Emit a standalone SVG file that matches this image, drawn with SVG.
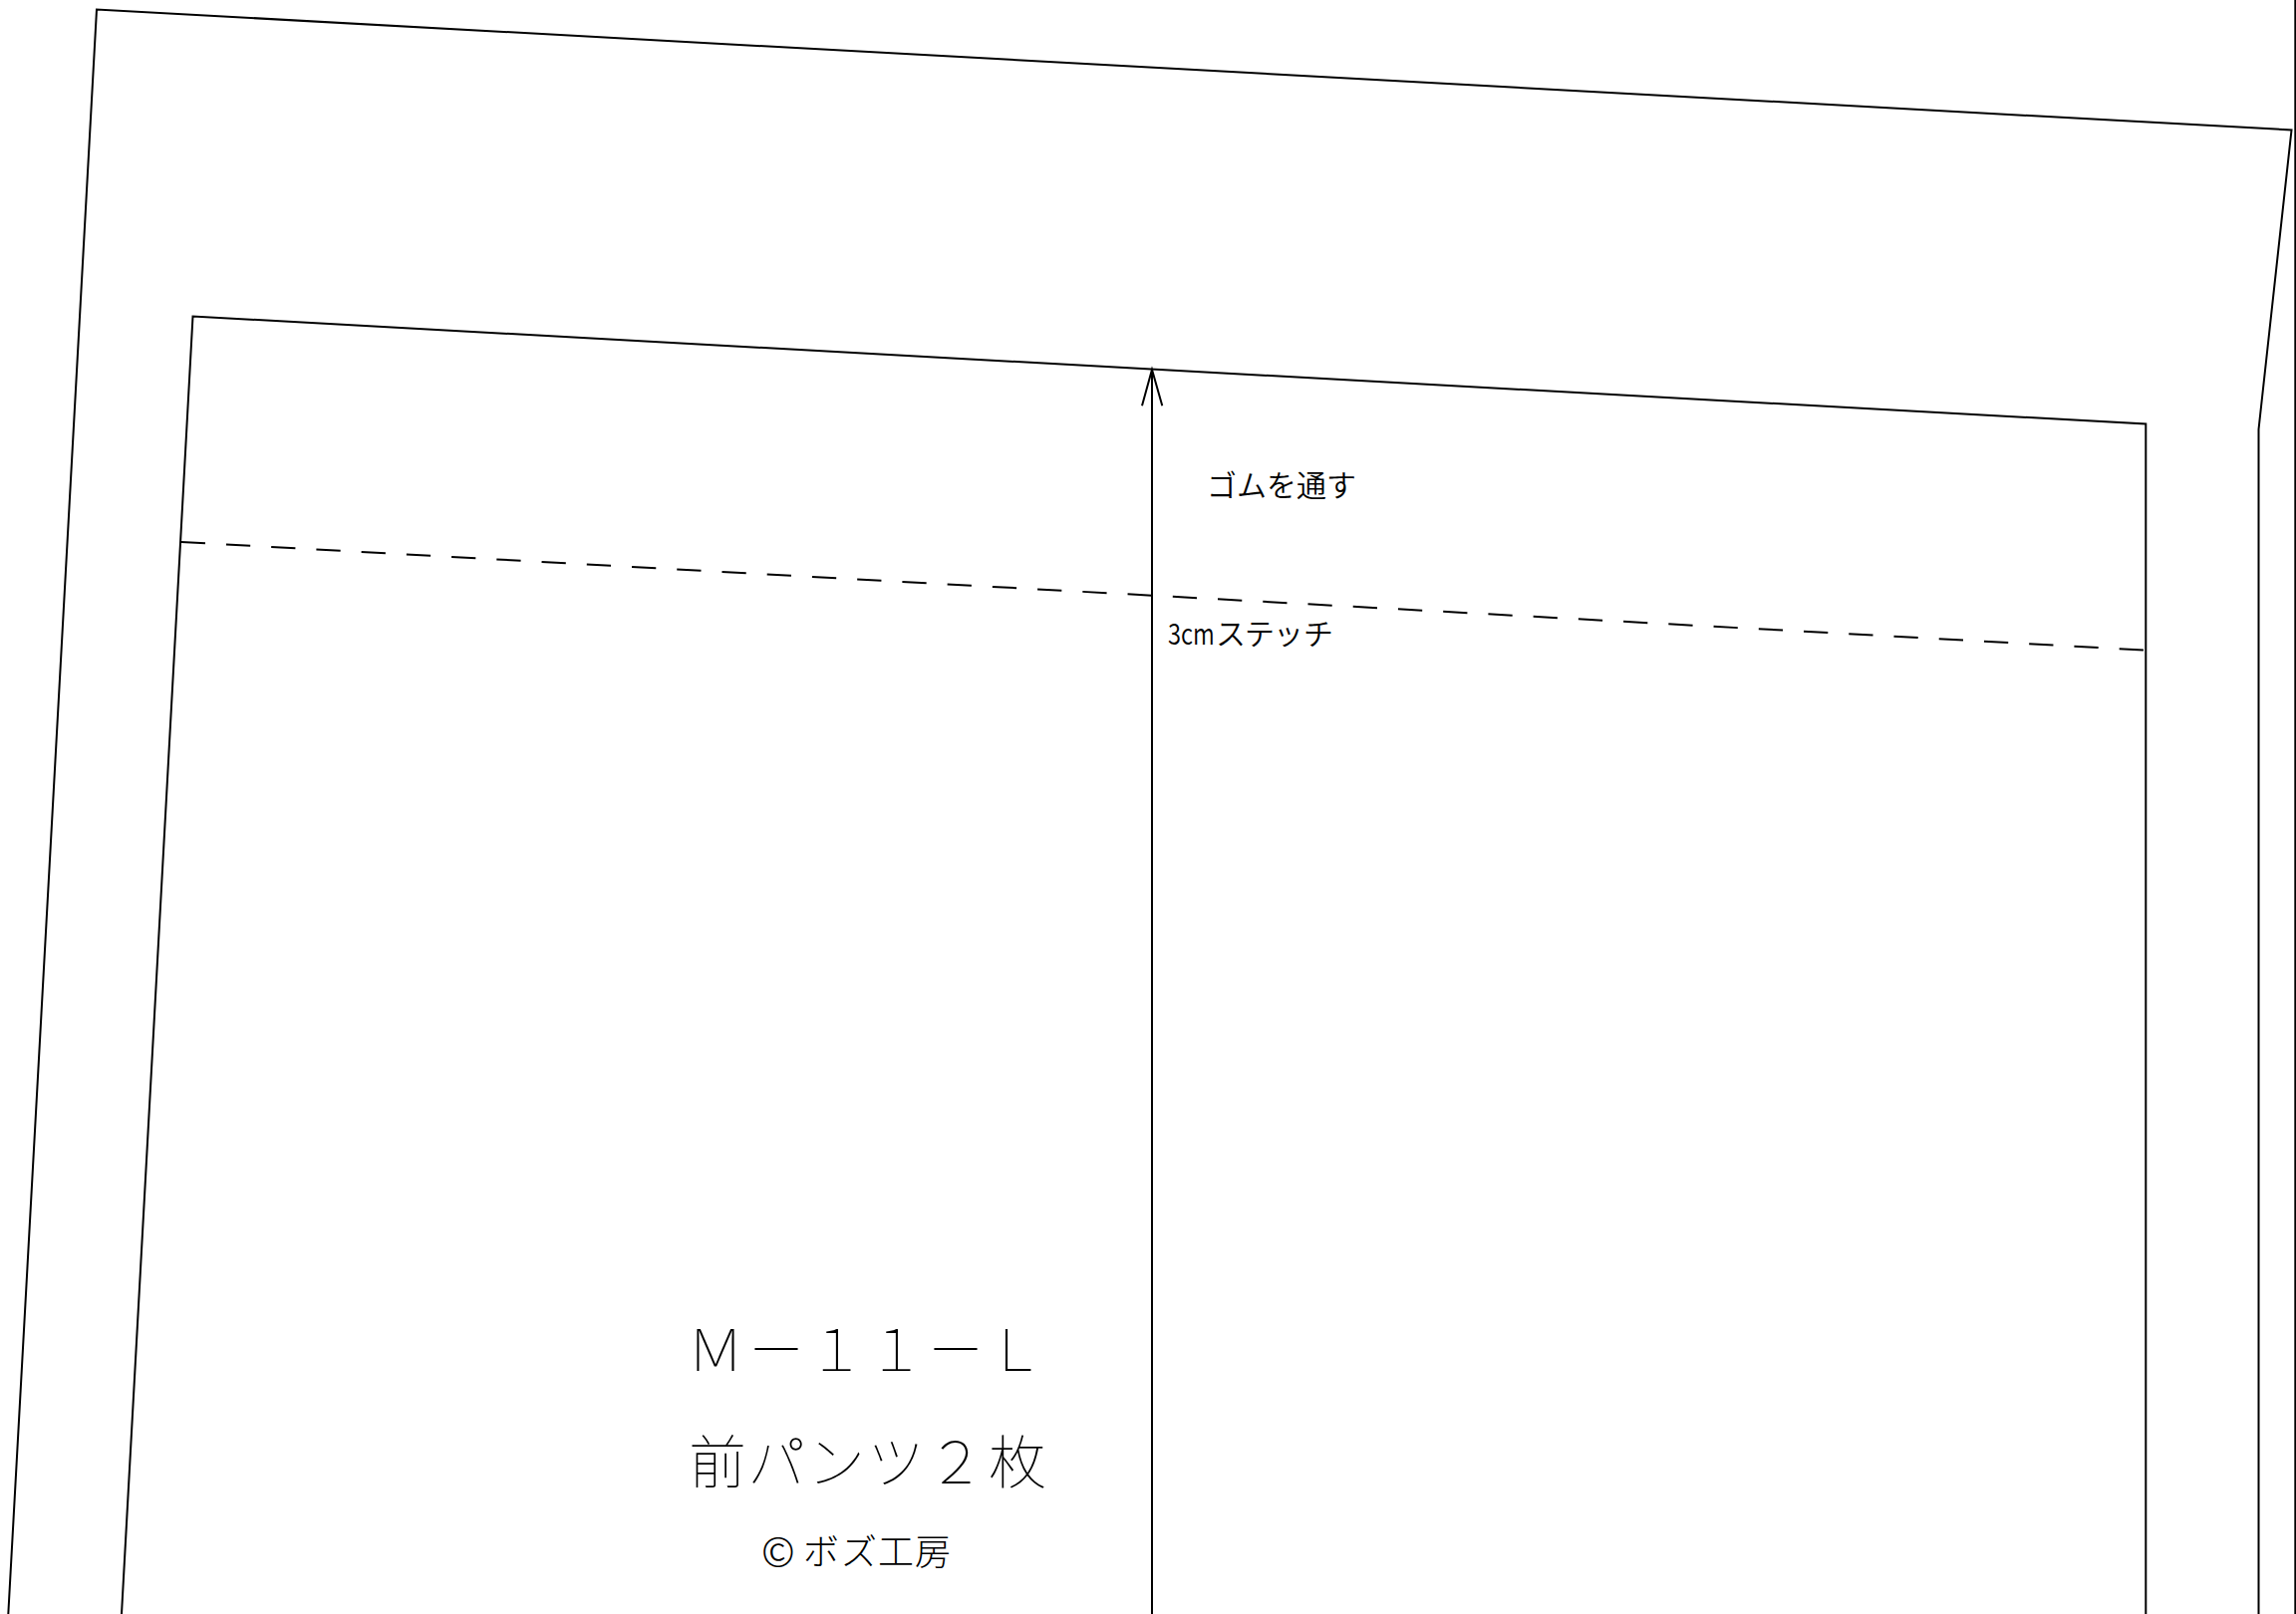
<svg xmlns="http://www.w3.org/2000/svg" width="2304" height="1620" viewBox="0 0 2304 1620">
<style>
.l{fill:none;stroke:#000;stroke-width:2}
.t{font-family:"Noto Sans CJK JP","Liberation Sans",sans-serif;fill:#000}
.s{font-size:30px;font-weight:350}
.b{font-size:58px;font-weight:100}
.c{font-size:36px;font-weight:300}
</style>
<rect width="2304" height="1620" fill="#fff"/>
<g id="connectors">
<path id="outer" class="l" d="M8.3 1620L97 9.5L2299.5 130.5L2266.5 431V1620"/>
<path id="inner" class="l" d="M122 1620L193.5 317.5L2153.3 425.5V1620"/>
<path id="stitch" class="l" d="M181.7 544L2153.3 652.7" stroke-dasharray="24.3 21"/>
<path id="grain" class="l" d="M1156 1620V371M1146 407.3L1156 371L1166.3 407.3"/>
<path id="edge" class="l" d="M2303.3 0V1620"/>
</g>
<g id="label-gomu"><text class="t s" x="1211 1241 1271 1301 1331" y="498">ゴムを通す</text></g>
<g id="label-stitch"><text class="t s" transform="translate(1172 647) scale(.79 1)">3cm</text><text class="t s" x="1220 1249 1278 1308" y="647">ステッチ</text></g>
<g id="title"><text class="t b" x="689 750 810 870 930 990" y="1376">Ｍ－１１－Ｌ</text></g>
<g id="subtitle"><text class="t b" x="691 750 810 870 930 992" y="1489">前パンツ２枚</text></g>
<g id="credit"><text class="t c" x="764" y="1572" style="font-size:41px">©</text><text class="t c" x="806 844 881 918" y="1571">ボズ工房</text></g>
</svg>
